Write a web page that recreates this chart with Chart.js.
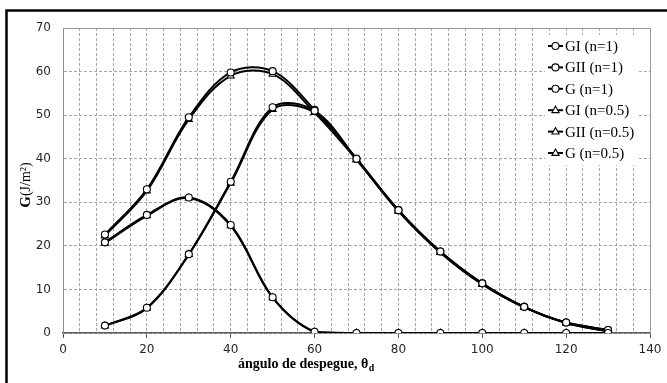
<!DOCTYPE html>
<html lang="es">
<head>
<meta charset="UTF-8">
<title>G frente al ángulo de despegue</title>
<script src="https://cdn.jsdelivr.net/npm/chart.js"></script>
<style>
  html, body { margin: 0; padding: 0; background: #fff; }
</style>
</head>
<body>
<canvas id="myChart" width="667" height="383"></canvas>
<script>
// ángulo de despegue (grados)
const angles = [10, 20, 30, 40, 50, 60, 70, 80, 90, 100, 110, 120, 130];

// n = 1
const giN1  = [20.8, 27.1, 31.1, 24.8, 8.2, 0.3, 0, 0, 0, 0, 0, 0, 0];
const giiN1 = [1.7, 5.8, 18.1, 34.7, 51.8, 51.0, 40.0, 28.2, 18.7, 11.4, 6.0, 2.4, 0.7];
const gN1   = [22.6, 33.0, 49.5, 59.8, 60.1, 51.2, 40.0, 28.2, 18.7, 11.4, 6.0, 2.4, 0.7];

// n = 0.5
const giN05  = [20.6, 26.9, 31.0, 24.6, 8.1, 0.2, 0, 0, 0, 0, 0, 0, 0];
const giiN05 = [1.6, 5.7, 18.0, 34.4, 51.3, 50.6, 39.8, 28.0, 18.5, 11.2, 5.9, 2.3, 0.4];
const gN05   = [22.3, 32.6, 49.0, 59.0, 59.4, 50.6, 39.8, 28.0, 18.5, 11.2, 5.9, 2.3, 0.4];

const seriesLabels = ["GI (n=1)", "GII (n=1)", "G (n=1)", "GI (n=0.5)", "GII (n=0.5)", "G (n=0.5)"];
const seriesValues = [giN1, giiN1, gN1, giN05, giiN05, gN05];
const seriesMarks  = ["circle", "circle", "circle", "triangle", "triangle", "triangle"];

const datasets = seriesLabels.map((label, i) => ({
    label: label,
    data: angles.map((a, j) => ({ x: a, y: seriesValues[i][j] })),
    borderColor: "#000",
    borderWidth: 2,
    tension: 0.35,
    fill: false,
    pointStyle: seriesMarks[i],
    pointRadius: seriesMarks[i] === "triangle" ? 4 : 3.5,
    pointBorderWidth: 1.1,
    pointBorderColor: "#000",
    pointBackgroundColor: "#fff"
}));

function drawMark(ctx, style, x, y) {
    ctx.beginPath();
    if (style === "circle") {
        ctx.arc(x, y, 3.5, 0, Math.PI * 2);
    } else {
        ctx.moveTo(x, y - 4);
        ctx.lineTo(x + 3.6, y + 2.4);
        ctx.lineTo(x - 3.6, y + 2.4);
        ctx.closePath();
    }
    ctx.fillStyle = "#fff";
    ctx.fill();
    ctx.lineWidth = 1.1;
    ctx.strokeStyle = "#000";
    ctx.stroke();
}

const decor = {
    id: "decor",
    beforeDraw(chart) {
        const ctx = chart.ctx;
        ctx.save();
        ctx.fillStyle = "#fff";
        ctx.fillRect(0, 0, chart.width, chart.height);
        ctx.restore();
    },
    afterDraw(chart) {
        const ctx = chart.ctx;
        const a = chart.chartArea;
        ctx.save();

        // marco del área de trazado
        ctx.strokeStyle = "#9a9a9a";
        ctx.lineWidth = 1;
        ctx.beginPath();
        ctx.moveTo(a.left, a.top + 0.5);
        ctx.lineTo(a.right + 0.5, a.top + 0.5);
        ctx.lineTo(a.right + 0.5, a.bottom);
        ctx.stroke();

        // borde exterior (solo se ven el izquierdo y el superior)
        ctx.strokeStyle = "#000";
        ctx.lineWidth = 2.5;
        ctx.strokeRect(6.5, 10.5, 700, 420);

        // leyenda
        ctx.fillStyle = "#fff";
        ctx.fillRect(545, 35, 92, 130);
        ctx.font = '15px "Liberation Serif", "Times New Roman", serif';
        ctx.textBaseline = "middle";
        seriesLabels.forEach((label, i) => {
            const y = 46 + i * 21.4;
            ctx.strokeStyle = "#000";
            ctx.lineWidth = 2;
            ctx.beginPath();
            ctx.moveTo(548, y);
            ctx.lineTo(563, y);
            ctx.stroke();
            drawMark(ctx, seriesMarks[i], 555.5, y);
            ctx.fillStyle = "#000";
            ctx.fillText(label, 565, y + 1);
        });

        // título eje x
        ctx.fillStyle = "#000";
        ctx.textBaseline = "alphabetic";
        ctx.font = 'bold 14px "Liberation Serif", "Times New Roman", serif';
        const xt = "ángulo de despegue, θ";
        ctx.fillText(xt, 238, 368);
        const w = ctx.measureText(xt).width;
        ctx.font = 'bold 10px "Liberation Serif", "Times New Roman", serif';
        ctx.fillText("d", 238 + w + 0.5, 371);

        // título eje y
        ctx.translate(30, 185);
        ctx.rotate(-Math.PI / 2);
        ctx.font = 'bold 15px "Liberation Serif", "Times New Roman", serif';
        const wG = ctx.measureText("G").width;
        ctx.font = '14px "Liberation Serif", "Times New Roman", serif';
        const wR = ctx.measureText("(J/m²)").width;
        const x0 = -(wG + wR) / 2;
        ctx.font = 'bold 15px "Liberation Serif", "Times New Roman", serif';
        ctx.fillText("G", x0, 0);
        ctx.font = '14px "Liberation Serif", "Times New Roman", serif';
        ctx.fillText("(J/m²)", x0 + wG, 0);

        ctx.restore();
    }
};

const tickFont = { family: '"DejaVu Sans", Verdana, sans-serif', size: 12 };

new Chart(document.getElementById("myChart"), {
    type: "line",
    data: { datasets: datasets },
    options: {
        responsive: false,
        animation: false,
        devicePixelRatio: 1,
        layout: { padding: { top: 28, right: 17, left: 0, bottom: 0 } },
        plugins: {
            legend: { display: false },
            tooltip: { enabled: false }
        },
        scales: {
            x: {
                type: "linear",
                min: 0,
                max: 140,
                afterFit: s => { s.height = 50; },
                ticks: {
                    stepSize: 4,
                    autoSkip: false,
                    maxRotation: 0,
                    padding: 5,
                    color: "#262626",
                    font: tickFont,
                    callback: v => (v % 20 === 0 ? v : "")
                },
                grid: {
                    color: "#a6a6a6",
                    lineWidth: 1,
                    tickLength: 5,
                    tickColor: c => (c.tick && c.tick.value % 20 === 0 ? "#595959" : "rgba(0,0,0,0)")
                },
                border: { color: "#595959", width: 1.5, dash: [3, 2] }
            },
            y: {
                min: 0,
                max: 70,
                afterFit: s => { s.width = 63; },
                ticks: {
                    stepSize: 10,
                    padding: 12,
                    color: "#262626",
                    font: tickFont
                },
                grid: {
                    color: "#a6a6a6",
                    lineWidth: 1,
                    drawTicks: false
                },
                border: { color: "#8c8c8c", width: 1, dash: [3, 2] }
            }
        }
    },
    plugins: [decor]
});
</script>
</body>
</html>
